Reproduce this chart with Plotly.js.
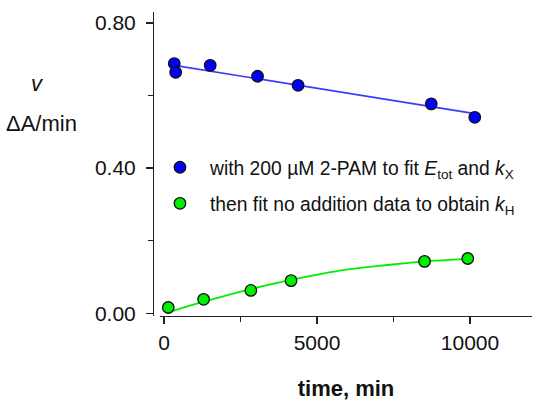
<!DOCTYPE html>
<html>
<head>
<meta charset="utf-8">
<script src="https://cdn.plot.ly/plotly-3.0.1.min.js"></script>
<style>html,body{margin:0;padding:0;background:#fff;}#chart{width:550px;height:411px;}</style>
</head>
<body>
<div id="chart"></div>
<script>
// Blue: with 200 µM 2-PAM
var blueTime = [336, 382, 1510, 3057, 4381, 8733, 10155];
var blueRate = [0.688, 0.664, 0.683, 0.653, 0.628, 0.577, 0.540];
var blueFitTime = [336, 10155];
var blueFitRate = [0.683, 0.550];

// Green: no addition
var greenTime = [140, 1295, 2838, 4152, 8514, 9926];
var greenRate = [0.016, 0.0385, 0.063, 0.090, 0.143, 0.151];
var greenFitTime = [300, 1300, 2800, 4150, 5100, 5850, 6950, 8000, 8500, 9300, 9950];
var greenFitRate = [0.007, 0.032, 0.066, 0.092, 0.108, 0.119, 0.130, 0.139, 0.143, 0.147, 0.150];

var legendNames = [
  'with 200 \u00b5M 2-PAM to fit <i>E</i><sub>tot</sub> and <i>k</i><sub>X</sub>',
  'then fit no addition data to obtain <i>k</i><sub>H</sub>'
];

var xTickVals = [0, 5000, 10000];
var xTickText = ['0', '5000', '10000'];
var xMinorVals = [2500, 7500];
var yTickVals = [0, 0.4, 0.8];
var yTickText = ['0.00', '0.40', '0.80'];
var yMinorVals = [0.2, 0.6];

var FONT = 'Liberation Sans, Arial, sans-serif';
var AX = '#222';

var traces = [
  {x: blueFitTime, y: blueFitRate, mode: 'lines', line: {color: '#3a3aff', width: 1.6}, showlegend: false, hoverinfo: 'skip'},
  {x: greenFitTime, y: greenFitRate, mode: 'lines', line: {color: '#00ee00', width: 1.8, shape: 'spline'}, showlegend: false, hoverinfo: 'skip'},
  {x: blueTime, y: blueRate, mode: 'markers', name: legendNames[0], legendgroup: 'a',
   marker: {color: '#0000ff', size: 11.5, line: {color: '#111', width: 1.3}}},
  {x: greenTime, y: greenRate, mode: 'markers', name: legendNames[1], legendgroup: 'b',
   marker: {color: '#00ee00', size: 11.5, line: {color: '#111', width: 1.3}}}
];

var layout = {
  width: 550, height: 411,
  margin: {l: 153, r: 18, t: 12, b: 95, pad: 0},
  paper_bgcolor: '#fff', plot_bgcolor: 'rgba(0,0,0,0)',
  font: {family: FONT, color: '#111'},
  showlegend: true,
  legend: {x: -0.008, xanchor: 'left', y: 0.552, yanchor: 'top', bgcolor: 'rgba(0,0,0,0)',
           font: {family: FONT, size: 19.3, color: '#111'}, itemwidth: 50, tracegroupgap: 8,
           traceorder: 'grouped'},
  xaxis: {
    domain: [0.0185, 1], range: [-130, 12025], anchor: 'y',
    showline: true, linecolor: AX, linewidth: 1.3, mirror: false,
    showgrid: false, zeroline: false,
    ticks: 'outside', ticklen: 7, tickwidth: 1.3, tickcolor: AX,
    tickmode: 'array', tickvals: xTickVals, ticktext: xTickText,
    minor: {tickmode: 'array', tickvals: xMinorVals, ticks: 'outside', ticklen: 5, tickwidth: 1.3, tickcolor: AX, showgrid: false},
    tickfont: {family: FONT, size: 21, color: '#111'},
    title: {text: '<b>time, min</b>', font: {family: FONT, size: 22, color: '#111'}, standoff: 28}
  },
  yaxis: {
    anchor: 'free', position: 0, range: [-0.0074, 0.83],
    showline: true, linecolor: AX, linewidth: 1.3,
    showgrid: false, zeroline: false,
    ticks: 'outside', ticklen: 7, tickwidth: 1.3, tickcolor: AX,
    tickmode: 'array', tickvals: yTickVals, ticktext: yTickText,
    minor: {tickmode: 'array', tickvals: yMinorVals, ticks: 'outside', ticklen: 5, tickwidth: 1.3, tickcolor: AX, showgrid: false},
    tickfont: {family: FONT, size: 21, color: '#111'},
    ticklabelstandoff: 6
  },
  annotations: [
    {text: '<i>v</i>', xref: 'paper', yref: 'paper', x: -0.305, y: 0.766, showarrow: false,
     font: {family: FONT, size: 22, color: '#111'}, xanchor: 'center', yanchor: 'middle'},
    {text: '\u0394A/min', xref: 'paper', yref: 'paper', x: -0.293, y: 0.633, showarrow: false,
     font: {family: FONT, size: 22, color: '#111'}, xanchor: 'center', yanchor: 'middle'}
  ]
};

Plotly.newPlot('chart', traces, layout, {displayModeBar: false, staticPlot: true});
</script>
</body>
</html>
